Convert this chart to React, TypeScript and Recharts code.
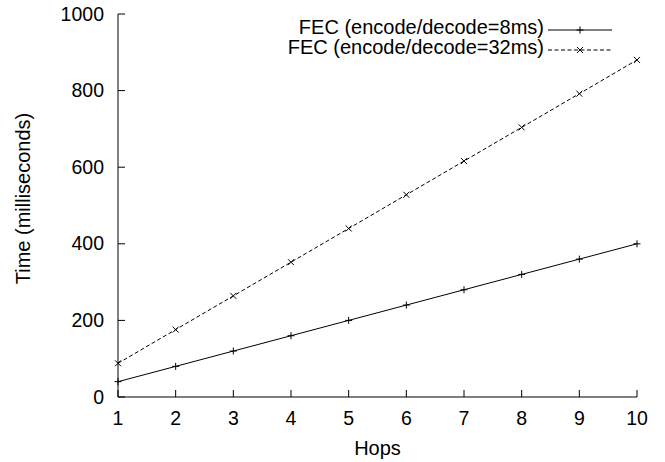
import React from 'react';
import { LineChart, Line, XAxis, YAxis, Legend } from 'recharts';

const hops = [1, 2, 3, 4, 5, 6, 7, 8, 9, 10];
const fec8ms = [40, 80, 120, 160, 200, 240, 280, 320, 360, 400];
const fec32ms = [88, 176, 264, 352, 440, 528, 616, 704, 792, 880];
const xTicks = [1, 2, 3, 4, 5, 6, 7, 8, 9, 10];
const yTicks = [0, 200, 400, 600, 800, 1000];
const seriesNames = ['FEC (encode/decode=8ms)', 'FEC (encode/decode=32ms)'];
const xLabel = 'Hops';
const yLabel = 'Time (milliseconds)';

const data = hops.map((h, i) => ({ hops: h, fec8: fec8ms[i], fec32: fec32ms[i] }));

const FONT = '"Liberation Sans", Arial, Helvetica, sans-serif';
const FS = 20;
const TFS = 19.5;
const TICK = 7;

const plusPath = (cx: number, cy: number, r: number) =>
  `M${cx - r},${cy}H${cx + r}M${cx},${cy - r}V${cy + r}`;
const crossPath = (cx: number, cy: number, r: number) =>
  `M${cx - r},${cy - r}L${cx + r},${cy + r}M${cx - r},${cy + r}L${cx + r},${cy - r}`;

const PlusDot = (props: any) => {
  const { cx, cy, index } = props;
  if (cx == null || cy == null) return <g key={`p-${index}`} />;
  return <path key={`p-${index}`} d={plusPath(cx, cy, 3.5)} stroke="#000" strokeWidth={1} fill="none" />;
};
const CrossDot = (props: any) => {
  const { cx, cy, index } = props;
  if (cx == null || cy == null) return <g key={`x-${index}`} />;
  return <path key={`x-${index}`} d={crossPath(cx, cy, 3)} stroke="#000" strokeWidth={1} fill="none" />;
};

const BottomTick = (props: any) => {
  const { x, y, payload } = props;
  return (
    <g>
      <line x1={x} x2={x} y1={y} y2={y - TICK} stroke="#000" />
      <text x={x} y={y + 27.5} textAnchor="middle" fontSize={TFS} fontFamily={FONT} fill="#000">
        {payload.value}
      </text>
    </g>
  );
};
const TopTick = (props: any) => {
  const { x, y } = props;
  return <line x1={x} x2={x} y1={y} y2={y + TICK} stroke="#000" />;
};
const LeftTick = (props: any) => {
  const { x, y, payload } = props;
  return (
    <g>
      <line x1={x} x2={x + TICK} y1={y} y2={y} stroke="#000" />
      <text x={x - 14} y={y + 6.5} textAnchor="end" fontSize={TFS} fontFamily={FONT} fill="#000">
        {payload.value}
      </text>
    </g>
  );
};
const RightTick = (props: any) => {
  const { x, y } = props;
  return <line x1={x} x2={x - TICK} y1={y} y2={y} stroke="#000" />;
};

const series = [
  { key: 'fec8', name: seriesNames[0], dash: undefined as string | undefined, marker: plusPath, r: 3.5 },
  { key: 'fec32', name: seriesNames[1], dash: '4 2.5', marker: crossPath, r: 3 },
];

const LegendContent = () => (
  <div style={{ fontFamily: FONT, fontSize: FS, color: '#000', lineHeight: '20px' }}>
    {series.map((s) => (
      <div key={s.key} style={{ display: 'flex', justifyContent: 'flex-end', alignItems: 'flex-start', height: 20, whiteSpace: 'nowrap' }}>
        <span style={{ display: 'block', height: 20, lineHeight: '20px' }}>{s.name}</span>
        <svg width={64} height={20} style={{ marginLeft: 4, display: 'block', flex: '0 0 auto' }}>
          <line x1={0} x2={64} y1={13} y2={13} stroke="#000" strokeDasharray={s.dash} />
          <path d={s.marker(32, 13, s.r)} stroke="#000" fill="none" />
        </svg>
      </div>
    ))}
  </div>
);

export default function App() {
  return (
    <div style={{ position: 'absolute', left: 0, top: 0, width: 665, height: 462, background: '#fff' }}>
      <LineChart
        width={665}
        height={462}
        data={data}
        margin={{ top: 14, right: 28, bottom: 0, left: 0 }}
        style={{ fontFamily: FONT }}
      >
        <XAxis
          dataKey="hops"
          type="number"
          domain={[1, 10]}
          ticks={xTicks}
          interval={0}
          height={65}
          tickSize={0}
          tickMargin={0}
          tickLine={false}
          axisLine={{ stroke: '#000' }}
          tick={<BottomTick />}
          label={{
            content: (p: any) => {
              const vb = p.viewBox;
              return (
                <text x={vb.x + vb.width / 2} y={vb.y + 58} textAnchor="middle" fontSize={FS} fontFamily={FONT} fill="#000">
                  {xLabel}
                </text>
              );
            },
          }}
        />
        <XAxis
          xAxisId="top"
          orientation="top"
          dataKey="hops"
          type="number"
          domain={[1, 10]}
          ticks={xTicks}
          interval={0}
          height={0}
          tickSize={0}
          tickMargin={0}
          tickLine={false}
          axisLine={{ stroke: '#000' }}
          tick={<TopTick />}
        />
        <YAxis
          type="number"
          domain={[0, 1000]}
          ticks={yTicks}
          interval={0}
          width={118}
          tickSize={0}
          tickMargin={0}
          tickLine={false}
          axisLine={{ stroke: '#000' }}
          tick={<LeftTick />}
          label={{
            content: (p: any) => {
              const vb = p.viewBox;
              const cx = vb.x + 30;
              const cy = vb.y + vb.height / 2 - 7;
              return (
                <text x={cx} y={cy} textAnchor="middle" fontSize={FS} fontFamily={FONT} fill="#000" transform={`rotate(-90 ${cx} ${cy})`}>
                  {yLabel}
                </text>
              );
            },
          }}
        />
        <YAxis
          yAxisId="right"
          orientation="right"
          type="number"
          domain={[0, 1000]}
          ticks={yTicks}
          interval={0}
          width={0}
          tickSize={0}
          tickMargin={0}
          tickLine={false}
          axisLine={{ stroke: '#000' }}
          tick={<RightTick />}
        />
        <Legend
          layout="horizontal"
          verticalAlign="middle"
          align="center"
          content={<LegendContent />}
          wrapperStyle={{ position: 'absolute', top: 17, left: 212, width: 400, height: 40 }}
        />
        <Line
          type="linear"
          dataKey="fec8"
          name={seriesNames[0]}
          stroke="#000"
          strokeWidth={1}
          dot={PlusDot}
          activeDot={false}
          isAnimationActive={false}
        />
        <Line
          type="linear"
          dataKey="fec32"
          name={seriesNames[1]}
          stroke="#000"
          strokeWidth={1}
          strokeDasharray="4 2.5"
          dot={CrossDot}
          activeDot={false}
          isAnimationActive={false}
        />
      </LineChart>
    </div>
  );
}
